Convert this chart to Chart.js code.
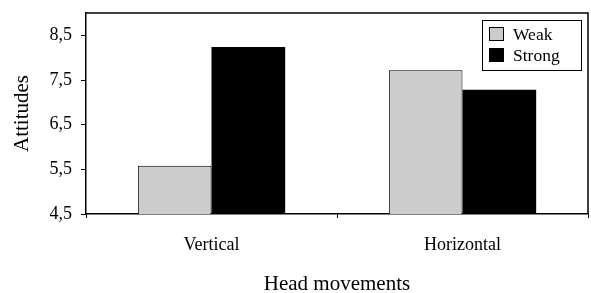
<!DOCTYPE html>
<html>
<head>
<meta charset="utf-8">
<script src="https://cdn.jsdelivr.net/npm/chart.js@4"></script>
<style>
  html, body { margin: 0; padding: 0; background: #fff; }
  #wrap { width: 591px; height: 293px; position: relative; }
</style>
</head>
<body>
<div id="wrap"><canvas id="chart"></canvas></div>
<script>
const categories = ["Vertical", "Horizontal"];
const weakValues = [5.58, 7.72];
const strongValues = [8.24, 7.28];
const yTicks = [4.5, 5.5, 6.5, 7.5, 8.5];
const seriesNames = ["Weak", "Strong"];

const serif = "'Liberation Serif', 'Times New Roman', serif";

// frame on top and right of the plot + legend box inside the plot
const framePlugin = {
    id: "frame",
    afterDraw: function (chart) {
        const ctx = chart.ctx;
        const a = chart.chartArea;
        ctx.save();
        ctx.strokeStyle = "#000";
        ctx.lineWidth = 1.5;
        ctx.beginPath();
        ctx.moveTo(a.left, a.top);
        ctx.lineTo(a.right, a.top);
        ctx.lineTo(a.right, a.bottom);
        ctx.stroke();

        // legend
        const bx = a.right - 106, by = a.top + 7, bw = 99, bh = 50;
        ctx.lineWidth = 1;
        ctx.fillStyle = "#fff";
        ctx.fillRect(bx, by, bw, bh);
        ctx.strokeRect(bx + 0.5, by + 0.5, bw, bh);
        ctx.font = "17.5px " + serif;
        ctx.textBaseline = "middle";
        chart.data.datasets.forEach(function (ds, i) {
            const sy = by + 7 + i * 21;
            ctx.fillStyle = ds.backgroundColor;
            ctx.fillRect(bx + 7, sy, 15, 14);
            ctx.strokeStyle = "#000";
            ctx.strokeRect(bx + 7.5, sy + 0.5, 14, 13);
            ctx.fillStyle = "#000";
            ctx.fillText(ds.label, bx + 31, sy + 8);
        });
        ctx.restore();
    }
};

Chart.defaults.color = "#000";
Chart.defaults.font.family = serif;

new Chart(document.getElementById("chart"), {
    type: "bar",
    data: {
        labels: categories,
        datasets: [
            {
                label: seriesNames[0],
                data: weakValues,
                backgroundColor: "#cccccc",
                borderColor: "#000",
                borderWidth: 1,
                categoryPercentage: 0.587,
                barPercentage: 1
            },
            {
                label: seriesNames[1],
                data: strongValues,
                backgroundColor: "#000",
                borderColor: "#000",
                borderWidth: 0,
                categoryPercentage: 0.587,
                barPercentage: 1
            }
        ]
    },
    options: {
        responsive: true,
        maintainAspectRatio: false,
        animation: false,
        layout: { padding: { top: 13, right: 3, bottom: 0, left: 0 } },
        plugins: {
            legend: { display: false },
            tooltip: { enabled: false }
        },
        scales: {
            x: {
                grid: { drawOnChartArea: false, tickLength: 4, color: "#000", lineWidth: 1 },
                border: { color: "#000", width: 1.5 },
                ticks: { font: { size: 18 }, padding: 16, maxRotation: 0 },
                title: {
                    display: true,
                    text: "Head movements",
                    font: { size: 21, lineHeight: 1 },
                    padding: { top: 0, bottom: -2 }
                },
                afterFit: function (scale) {
                    scale.height = 79;
                    scale.paddingLeft = 0;
                    scale.paddingRight = 0;
                }
            },
            y: {
                min: 4.5,
                max: 9.0,
                afterBuildTicks: function (scale) {
                    scale.ticks = yTicks.map(function (v) { return { value: v }; });
                },
                grid: { drawOnChartArea: false, tickLength: 5, color: "#000", lineWidth: 1 },
                border: { color: "#000", width: 1.5 },
                ticks: {
                    font: { size: 18 },
                    padding: 9,
                    callback: function (value) {
                        return Number(value).toFixed(1).replace(".", ",");
                    }
                },
                title: {
                    display: true,
                    text: "Attitudes",
                    font: { size: 21, lineHeight: 1 },
                    padding: { top: 11.5, bottom: 0 }
                },
                afterFit: function (scale) {
                    scale.width = 86;
                    scale.paddingTop = 0;
                    scale.paddingBottom = 0;
                }
            }
        }
    },
    plugins: [framePlugin]
});
</script>
</body>
</html>
